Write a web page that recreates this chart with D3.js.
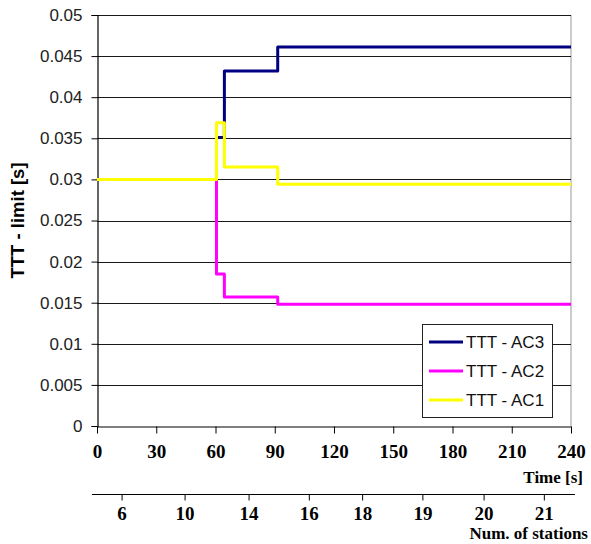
<!DOCTYPE html>
<html>
<head>
<meta charset="utf-8">
<script src="https://cdn.jsdelivr.net/npm/d3@7"></script>
<style>
  html, body { margin: 0; padding: 0; background: #fff; }
  svg { display: block; }
</style>
</head>
<body>
<svg id="chart" width="591" height="544"></svg>
<script>
// ---- data ----
const timeTicks = [0, 30, 60, 90, 120, 150, 180, 210, 240];
const yTicks = [0, 0.005, 0.01, 0.015, 0.02, 0.025, 0.03, 0.035, 0.04, 0.045, 0.05];
const yTickLabels = ["0", "0.005", "0.01", "0.015", "0.02", "0.025", "0.03", "0.035", "0.04", "0.045", "0.05"];
const stationLabels = ["6", "10", "14", "16", "18", "19", "20", "21"];
const stationTimes = [12.7, 44.6, 77, 107.5, 134.5, 165, 196, 226.5];

const ac3Time = [61, 64.5, 91.5, 240];
const ac3Value = [0.0351, 0.0432, 0.0461, 0.0461];
const ac2Time = [60.5, 60.5, 64.5, 91.5, 240];
const ac2Value = [0.030, 0.0185, 0.0157, 0.0148, 0.0148];
const ac1Time = [0, 60.5, 64.5, 91.5, 240];
const ac1Value = [0.030, 0.0369, 0.0315, 0.0294, 0.0294];

const seriesNames = ["TTT - AC3", "TTT - AC2", "TTT - AC1"];
const seriesColors = ["#000080", "#ff00ff", "#ffff00"];

// ---- layout ----
const svg = d3.select("#chart");
const mLeft = 97, mRight = 571, mTop = 15, mBottom = 426;

const x = d3.scaleLinear().domain([0, 240]).range([mLeft, mRight]);
const y = d3.scaleLinear().domain([0, 0.05]).range([mBottom, mTop]);

// right border
svg.append("line").attr("x1", mRight).attr("x2", mRight).attr("y1", mTop).attr("y2", mBottom)
  .attr("stroke", "#999").attr("stroke-width", 1);

// gridlines
svg.append("g").selectAll("line").data(yTicks.filter(d => d > 0)).join("line")
  .attr("x1", mLeft).attr("x2", mRight)
  .attr("y1", d => Math.round(y(d)) + 0.5).attr("y2", d => Math.round(y(d)) + 0.5)
  .attr("stroke", "#1a1a1a").attr("stroke-width", 1.1);

// y axis
const yAxis = d3.axisLeft(y).tickValues(yTicks).tickSize(6).tickPadding(9)
  .tickFormat((d, i) => yTickLabels[i]);
const gy = svg.append("g").attr("transform", `translate(${mLeft + 0.5},0)`).call(yAxis);
gy.select(".domain").attr("stroke", "#000").attr("stroke-width", 1.2);
gy.selectAll(".tick line").attr("stroke", "#000");
gy.selectAll(".tick text").attr("font-family", "Liberation Sans, Arial, sans-serif")
  .attr("font-size", 17).attr("fill", "#222");

// x axis (time)
const xAxis = d3.axisBottom(x).tickValues(timeTicks).tickSize(7).tickPadding(11).tickSizeOuter(0);
const gx = svg.append("g").attr("transform", `translate(0,${mBottom + 0.5})`).call(xAxis);
gx.select(".domain").attr("stroke", "#000").attr("stroke-width", 1.2);
gx.selectAll(".tick line").attr("stroke", "#000");
gx.selectAll(".tick text").attr("font-family", "Liberation Serif, Times New Roman, serif")
  .attr("font-weight", "bold").attr("font-size", 19).attr("fill", "#000");

svg.append("text").attr("x", 583).attr("y", 483).attr("text-anchor", "end")
  .attr("font-family", "Liberation Serif, Times New Roman, serif").attr("font-weight", "bold")
  .attr("font-size", 17).text("Time [s]");

// stations axis
const sy = 494.5;
svg.append("line").attr("x1", x(-2.6)).attr("x2", x(242)).attr("y1", sy).attr("y2", sy)
  .attr("stroke", "#000").attr("stroke-width", 1.2);
const sg = svg.append("g").selectAll("g").data(stationTimes).join("g")
  .attr("transform", d => `translate(${x(d)},${sy})`);
sg.append("line").attr("y1", 0).attr("y2", 6).attr("stroke", "#000");
sg.append("text").attr("y", 25).attr("text-anchor", "middle")
  .attr("font-family", "Liberation Serif, Times New Roman, serif").attr("font-weight", "bold")
  .attr("font-size", 19).text((d, i) => stationLabels[i]);

svg.append("text").attr("x", 588).attr("y", 539).attr("text-anchor", "end")
  .attr("font-family", "Liberation Serif, Times New Roman, serif").attr("font-weight", "bold")
  .attr("font-size", 17).text("Num. of stations");

// y title
svg.append("text").attr("transform", `translate(24,${(mTop + mBottom) / 2}) rotate(-90)`)
  .attr("text-anchor", "middle")
  .attr("font-family", "Liberation Sans, Arial, sans-serif").attr("font-weight", "bold")
  .attr("font-size", 18.5).text("TTT - limit [s]");

// series
const line = d3.line().x(d => x(d[0])).y(d => y(d[1])).curve(d3.curveStepAfter);
const series = [
  { time: ac3Time, value: ac3Value },
  { time: ac2Time, value: ac2Value },
  { time: ac1Time, value: ac1Value }
];
series.forEach((s, i) => {
  const pts = s.time.map((t, j) => [t, s.value[j]]);
  svg.append("path").attr("d", line(pts)).attr("fill", "none")
    .attr("stroke", seriesColors[i]).attr("stroke-width", 3)
    .attr("stroke-linejoin", "round");
});

// legend
const lg = svg.append("g");
lg.append("rect").attr("x", 422.5).attr("y", 324.5).attr("width", 130).attr("height", 93)
  .attr("fill", "#fff").attr("stroke", "#222").attr("stroke-width", 1);
seriesNames.forEach((n, i) => {
  const cy = 342 + i * 29;
  lg.append("line").attr("x1", 429).attr("x2", 463).attr("y1", cy).attr("y2", cy)
    .attr("stroke", seriesColors[i]).attr("stroke-width", 3);
  lg.append("text").attr("x", 466).attr("y", cy + 6)
    .attr("font-family", "Liberation Sans, Arial, sans-serif").attr("font-size", 17)
    .attr("fill", "#111").text(n);
});
</script>
</body>
</html>
